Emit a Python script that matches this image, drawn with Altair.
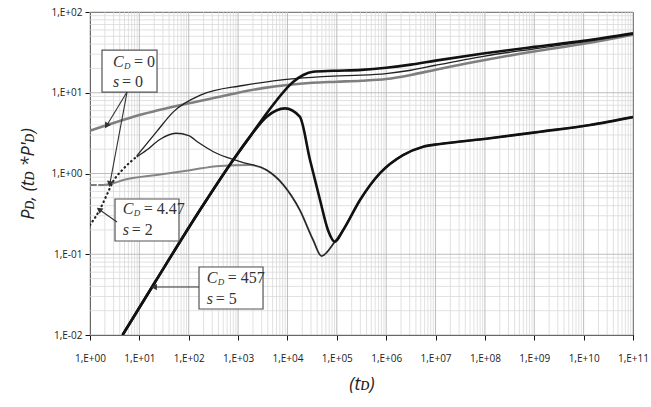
import math
import altair as alt
import pandas as pd

# ---------------- data ----------------
# C_D = 0, s = 0  (gray)
gray_p_t = [1, 2, 10, 100, 427, 1000, 3162, 10000, 31623, 1e5, 316228, 1e6, 3.16e6, 1e7, 3.16e7,
            1e8, 1e9, 1e10, 1e11]
gray_p_v = [3.4, 3.9, 5.3, 7.4, 8.9, 10.0, 11.4, 12.5, 13.3, 13.7, 14.1, 14.8, 16.6, 19.3, 22.2,
            25.5, 32.5, 40.5, 52.5]

gray_d_dash_t = [1, 1.86]
gray_d_dash_v = [0.72, 0.72]
gray_d_t = [1.86, 2.54, 4.73, 22.4, 106, 431, 1738, 3802, 8318, 17783, 33113, 48978, 91201,
            134896, 295121, 750000, 2.19e6, 5.62e6, 1.23e7, 1.26e8, 1.32e9, 1.35e10, 1e11]
gray_d_v = [0.72, 0.735, 0.83, 0.96, 1.10, 1.24, 1.27, 1.10, 0.72, 0.353, 0.15, 0.095, 0.143,
            0.2, 0.47, 1.01, 1.69, 2.15, 2.32, 2.73, 3.29, 3.99, 5.0]

# C_D = 4.47, s = 2  (thin black)
thin_early_t = [1, 1.59, 2.18, 2.92, 4.73, 8.83]
thin_early_v = [0.23, 0.36, 0.54, 0.79, 1.14, 1.62]
thin_p_t = [8.83, 22.4, 48.8, 178, 1259, 14125, 85114, 316228, 1e6, 3.16e6, 1e7, 1e8, 1e9, 1e10, 1e11]
thin_p_v = [1.65, 3.3, 5.8, 9.4, 12.3, 15.0, 16.1, 16.5, 17.3, 19.0, 21.9, 28.5, 35.0, 42.8, 52.9]
thin_d_t = [8.83, 14.1, 25, 55, 100, 160, 316, 1096, 3802, 8318, 17783, 33113, 48978, 91201,
            134896, 295121, 750000, 2.19e6, 5.62e6, 1.23e7, 1.26e8, 1.32e9, 1.35e10, 1e11]
thin_d_v = [1.6, 1.95, 2.6, 3.15, 2.95, 2.4, 1.86, 1.40, 1.10, 0.72, 0.353, 0.15, 0.095, 0.143,
            0.2, 0.47, 1.01, 1.69, 2.15, 2.32, 2.73, 3.29, 3.99, 5.0]

# C_D = 457, s = 5  (thick black)
thick_p_t = [4.57, 20.7, 169, 794, 1738, 3802, 13183, 20893, 33113, 85114, 316228, 1e6, 3.16e6,
             1e7, 1e8, 1e9, 1e10, 1e11]
thick_p_v = [0.01, 0.045, 0.353, 1.47, 2.86, 5.57, 13.7, 16.6, 18.2, 18.7, 19.2, 20.4, 22.3,
             25.0, 30.8, 37.0, 44.0, 54.5]
thick_d_t = [4.57, 20.7, 169, 794, 1738, 3802, 8913, 17783, 28640, 45709, 66069, 91201, 134896,
             295121, 750000, 2.19e6, 5.62e6, 1.23e7, 1.26e8, 1.32e9, 1.35e10, 1e11]
thick_d_v = [0.01, 0.045, 0.353, 1.47, 2.86, 5.05, 6.4, 5.05, 1.47, 0.47, 0.2, 0.143, 0.2,
             0.47, 1.01, 1.69, 2.15, 2.32, 2.73, 3.29, 3.99, 5.0]

# ticks / grid
x_decades = [10.0 ** k for k in range(0, 12)]
y_decades = [0.01, 0.1, 1, 10, 100]
minor_mult = [2, 3, 4, 5, 6, 7, 8, 9]

# annotations
ann_text_x = [2.92, 4.59, 231]
ann_y1 = [24, 0.363, 0.0508]
ann_y2 = [13.6, 0.2, 0.0279]
ann_cd = ["= 0", "= 4.47", "= 457"]
ann_s = ["= 0", "= 2", "= 5"]
box_x1 = [1.75, 3.21, 161.5]
box_x2 = [22.8, 63.5, 3200]
box_y1 = [33.8, 0.483, 0.0695]
box_y2 = [10.2, 0.146, 0.021]

arrow_x1 = [5.62, 5.62, 3.52, 161.5]
arrow_y1 = [10.2, 10.2, 0.251, 0.0393]
arrow_x2 = [2.21, 2.54, 1.59, 20.7]
arrow_y2 = [3.99, 0.76, 0.353, 0.0393]

# ---------------- layout ----------------
W, H = 543, 323
PXX, PXY = W / 11.0, H / 4.0

xs = alt.Scale(type="log", domain=[1, 1e11], nice=False)
ys = alt.Scale(type="log", domain=[0.01, 100], nice=False)

EXP = "round(log(datum.value)/LN10)"
LBL = f"'1,E' + ({EXP} >= 0 ? '+' : '-') + (abs({EXP}) < 10 ? '0' : '') + abs({EXP})"

xaxis = alt.Axis(values=x_decades, labelExpr=LBL, grid=False, tickSize=5, tickColor="#111",
                 domainColor="#111", labelFont="Open Sans", labelFontSize=10, labelColor="#222",
                 labelPadding=13, title="(tᴅ)", titleFont="Open Sans", titleFontSize=18,
                 titleFontWeight="normal", titleFontStyle="italic", titleColor="#222",
                 titlePadding=12, labelFlush=False)
yaxis = alt.Axis(values=y_decades, labelExpr=LBL, grid=False, tickSize=5, tickColor="#111",
                 domainColor="#111", labelFont="Open Sans", labelFontSize=10, labelColor="#222",
                 labelPadding=3, title="Pᴅ, (tᴅ *P'ᴅ)", titleFont="Open Sans", titleFontSize=18,
                 titleFontWeight="normal", titleFontStyle="italic", titleColor="#222",
                 titlePadding=13, labelFlush=False)


def X(field):
    return alt.X(field, type="quantitative", scale=xs, axis=xaxis)


def Y(field):
    return alt.Y(field, type="quantitative", scale=ys, axis=yaxis)


# grid
gx_minor = pd.DataFrame({"g": [m * 10.0 ** k for k in range(0, 11) for m in minor_mult]})
gx_major = pd.DataFrame({"g": x_decades})
gy_minor = pd.DataFrame({"g": [m * 10.0 ** k for k in range(-2, 2) for m in minor_mult]})
gy_major = pd.DataFrame({"g": y_decades})

grid = (
    alt.Chart(gx_minor).mark_rule(color="#d9d9d9", strokeWidth=0.8).encode(x=X("g"))
    + alt.Chart(gy_minor).mark_rule(color="#d9d9d9", strokeWidth=0.8).encode(y=Y("g"))
    + alt.Chart(gx_major).mark_rule(color="#bdbdbd", strokeWidth=1).encode(x=X("g"))
    + alt.Chart(gy_major).mark_rule(color="#bdbdbd", strokeWidth=1).encode(y=Y("g"))
)


def curve(ts, vs, color, width, dash=None):
    df = pd.DataFrame({"t": ts, "v": vs})
    kw = dict(color=color, strokeWidth=width, interpolate="monotone", clip=True)
    if dash:
        kw["strokeDash"] = dash
        kw["strokeCap"] = "round"
    return alt.Chart(df).mark_line(**kw).encode(x=X("t"), y=Y("v"))


curves = (
    curve(gray_p_t, gray_p_v, "#7f7f7f", 2.6)
    + curve(gray_d_dash_t, gray_d_dash_v, "#7f7f7f", 2.0, [6, 3])
    + curve(gray_d_t, gray_d_v, "#858585", 2.0)
    + curve(thin_early_t, thin_early_v, "#222222", 2.2, [0.5, 4])
    + curve(thin_p_t, thin_p_v, "#222222", 1.3)
    + curve(thin_d_t, thin_d_v, "#222222", 1.3)
    + curve(thick_p_t, thick_p_v, "#111111", 2.6)
    + curve(thick_d_t, thick_d_v, "#111111", 2.6)
)

# annotation boxes and text
ann = pd.DataFrame({"tx": ann_text_x, "y1": ann_y1, "y2": ann_y2, "cd": ann_cd, "s": ann_s,
                    "bx1": box_x1, "bx2": box_x2, "by1": box_y1, "by2": box_y2})

boxes = alt.Chart(ann).mark_rect(fill="white", stroke="#555555", strokeWidth=1.2).encode(
    x=X("bx1"), x2="bx2", y=Y("by1"), y2="by2")

SERIF = "Liberation Serif"
tC = alt.Chart(ann).mark_text(align="left", baseline="middle", font=SERIF, fontStyle="italic",
                              fontSize=16, color="#333").encode(x=X("tx"), y=Y("y1"), text=alt.value("C"))
tD = alt.Chart(ann).mark_text(align="left", baseline="middle", font=SERIF, fontStyle="italic",
                              fontSize=9, dx=11, dy=4, color="#333").encode(x=X("tx"), y=Y("y1"), text=alt.value("D"))
tCD = alt.Chart(ann).mark_text(align="left", baseline="middle", font=SERIF,
                               fontSize=16, dx=21, color="#333").encode(x=X("tx"), y=Y("y1"), text="cd:N")
tS = alt.Chart(ann).mark_text(align="left", baseline="middle", font=SERIF, fontStyle="italic",
                              fontSize=16, color="#333").encode(x=X("tx"), y=Y("y2"), text=alt.value("s"))
tSV = alt.Chart(ann).mark_text(align="left", baseline="middle", font=SERIF,
                               fontSize=16, dx=9, color="#333").encode(x=X("tx"), y=Y("y2"), text="s:N")

# arrows
angles = []
for x1, y1, x2, y2 in zip(arrow_x1, arrow_y1, arrow_x2, arrow_y2):
    dx = (math.log10(x2) - math.log10(x1)) * PXX
    dy = -(math.log10(y2) - math.log10(y1)) * PXY
    angles.append(math.degrees(math.atan2(dx, -dy)) % 360)
arr = pd.DataFrame({"x1": arrow_x1, "y1": arrow_y1, "x2": arrow_x2, "y2": arrow_y2, "ang": angles})

shafts = alt.Chart(arr).mark_rule(color="#333", strokeWidth=1.1).encode(
    x=X("x1"), y=Y("y1"), x2="x2", y2="y2")
heads = alt.Chart(arr).mark_point(shape="triangle", filled=True, size=45, color="#333", opacity=1).encode(
    x=X("x2"), y=Y("y2"), angle=alt.Angle("ang:Q", scale=None))

chart = (grid + curves + boxes + tC + tD + tCD + tS + tSV + shafts + heads).properties(
    width=W, height=H,
    autosize=alt.AutoSizeParams(type="none"),
    padding={"left": 90, "top": 12, "right": 18, "bottom": 72},
    background="white",
).configure_view(stroke="#444", strokeWidth=1)

chart.save("out.html", embed_options={"renderer": "svg", "actions": False})
